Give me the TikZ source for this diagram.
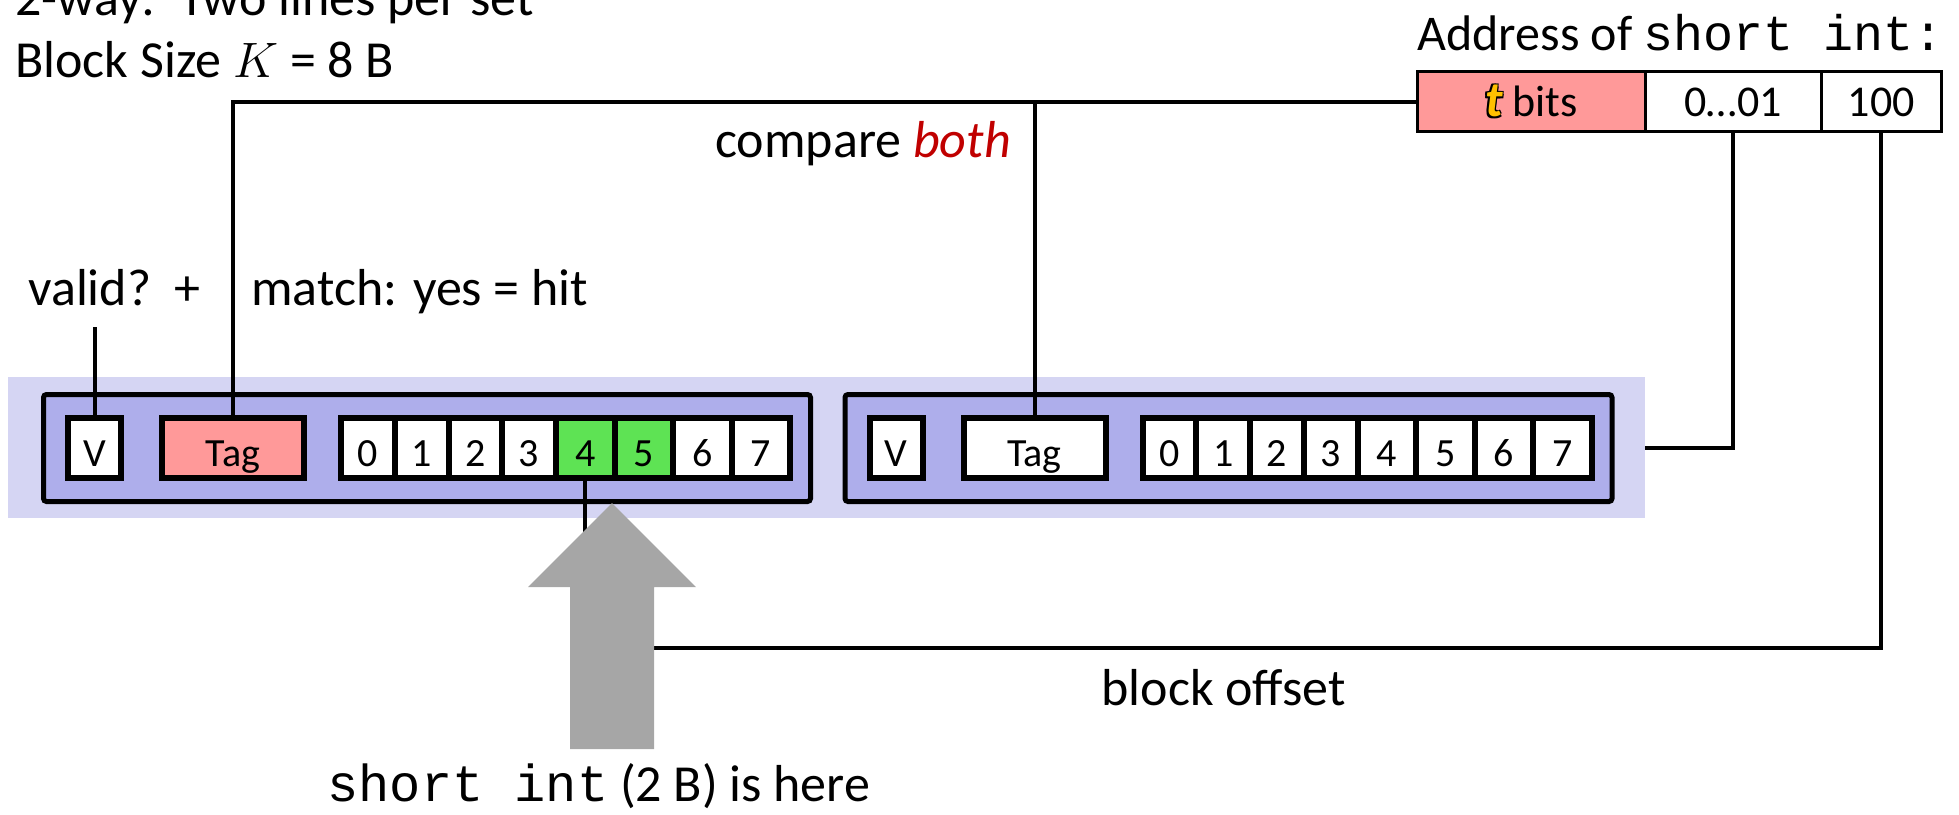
\documentclass[tikz,border=0pt]{standalone}
\usepackage{fontspec}
\setmainfont{Carlito}
\setmonofont{Liberation Mono}
\usepackage{tikz}
\usetikzlibrary{positioning}
\definecolor{setbg}{RGB}{213,213,243}
\definecolor{linebg}{RGB}{174,174,235}
\definecolor{tagpink}{RGB}{255,153,153}
\definecolor{hitgreen}{RGB}{94,227,84}
\definecolor{arrowgray}{RGB}{166,166,166}
\definecolor{bothred}{RGB}{192,0,0}
\definecolor{tgold}{RGB}{255,192,0}
% outlined gold t
\newcommand{\goldt}{{\fontsize{25}{28}\selectfont\bfseries\itshape\rlap{\kern-0.8pt\raisebox{0.8pt}{t}}\rlap{\kern0.8pt\raisebox{0.8pt}{t}}\rlap{\kern-0.8pt\raisebox{-0.8pt}{t}}\rlap{\kern0.8pt\raisebox{-0.8pt}{t}}\textcolor{tgold}{t}}}
\tikzset{
  wire/.style={line width=2pt},
  cellbox/.style={draw, line width=3pt, outer sep=0pt, inner sep=0pt, minimum height=30pt, text height=18.5pt, text depth=0pt, font=\fontsize{20}{24}\selectfont},
  linebox/.style={draw, line width=2.5pt, rounded corners=1.5pt, fill=linebg, minimum width=383.5pt, minimum height=53.5pt, inner sep=0pt},
  addrcell/.style={draw, line width=1.5pt, outer sep=0pt, inner sep=0pt, minimum height=30pt, text height=15.2pt, text depth=0pt, font=\fontsize{22}{26}\selectfont},
  lbl/.style={anchor=base west, inner sep=0pt, font=\fontsize{26}{30}\selectfont}
}

\begin{document}
\begin{tikzpicture}[x=0.5pt, y=-0.5pt]
        \useasboundingbox (0,0) rectangle (1959,814);

        % the set
        \node[fill=setbg, minimum width=818.5pt, minimum height=70.5pt, inner sep=0pt, outer sep=0pt] (set) at (826.5,447.5) {};

        % line 1
        \node[linebox] (line1) at (427,448) {};
        \node[cellbox, fill=white, minimum width=26.5pt] (v1) at (94.5,448) {V};
        \node[cellbox, fill=tagpink, minimum width=71pt] (tag1) at (233,448) {Tag};
        \foreach \i/\x/\w/\c in {0/367.875/26.875/white, 1/421.625/26.875/white, 2/475.375/26.875/white, 3/529.125/26.875/white,
                                 4/585.25/29.25/hitgreen, 5/643.75/29.25/hitgreen, 6/702.25/29.25/white, 7/760.75/29.25/white}
            \node[cellbox, fill=\c, minimum width=\w pt] (b1-\i) at (\x,448) {\i};

        % line 2
        \node[linebox] (line2) at (1228.5,448) {};
        \node[cellbox, fill=white, minimum width=26.5pt] (v2) at (896,448) {V};
        \node[cellbox, fill=white, minimum width=71pt] (tag2) at (1034.5,448) {Tag};
        \foreach \i/\x/\w in {0/367.875/26.875, 1/421.625/26.875, 2/475.375/26.875, 3/529.125/26.875,
                              4/585.25/29.25, 5/643.75/29.25, 6/702.25/29.25, 7/760.75/29.25}
            \node[cellbox, fill=white, minimum width=\w pt] (b2-\i) at (\x+801.5,448) {\i};

        % address
        \node[addrcell, fill=tagpink, minimum width=113.75pt] (tbits) at (1531.25,101.5) {\goldt\ bits};
        \node[addrcell, fill=white, minimum width=88pt, right=0pt of tbits] (index) {0…01};
        \node[addrcell, fill=white, minimum width=60.25pt, right=0pt of index] (offset) {100};

        % labels
        \node[lbl] (ways) at (15,15) {2-way:\ \ Two lines per set};
        \node[lbl] (blocksize) at (15,77) {Block Size $K$ = 8 B};
        \node[lbl, font=\fontsize{25}{30}\selectfont] (addrlabel) at (1417,50) {Address of \texttt{short int:}};
        \node[lbl] (validlabel) at (28,305) {valid?\ \ +};
        \node[lbl] (matchlabel) at (251,305) {match: yes = hit};
        \node[lbl] (comparelabel) at (715,157) {compare \textcolor{bothred}{\textit{both}}};
        \node[lbl] (offsetlabel) at (1101,705) {block offset};
        \node[lbl] (herelabel) at (327,801) {\texttt{short int} (2 B) is here};

        % wires
        \draw[wire] (tbits.west) -| (tag1.north);
        \coordinate (split) at (tag2.north |- tbits.west);
        \draw[wire] (split) -- (tag2.north);
        \coordinate (validtop) at (94.5,327);
        \draw[wire] (validtop) -- (v1.north);
        \draw[wire] (index.south) |- (set.east);
        \coordinate (offlevel) at (0,648);
        \draw[wire] (offset.south) -- (offset.south |- offlevel) -| (b1-4.south);

        % big arrow
        \fill[arrowgray] (570,749) -- (570,587) -- (528,587) -- (612,503) -- (696,587) -- (654,587) -- (654,749) -- cycle;
\end{tikzpicture}
\end{document}
